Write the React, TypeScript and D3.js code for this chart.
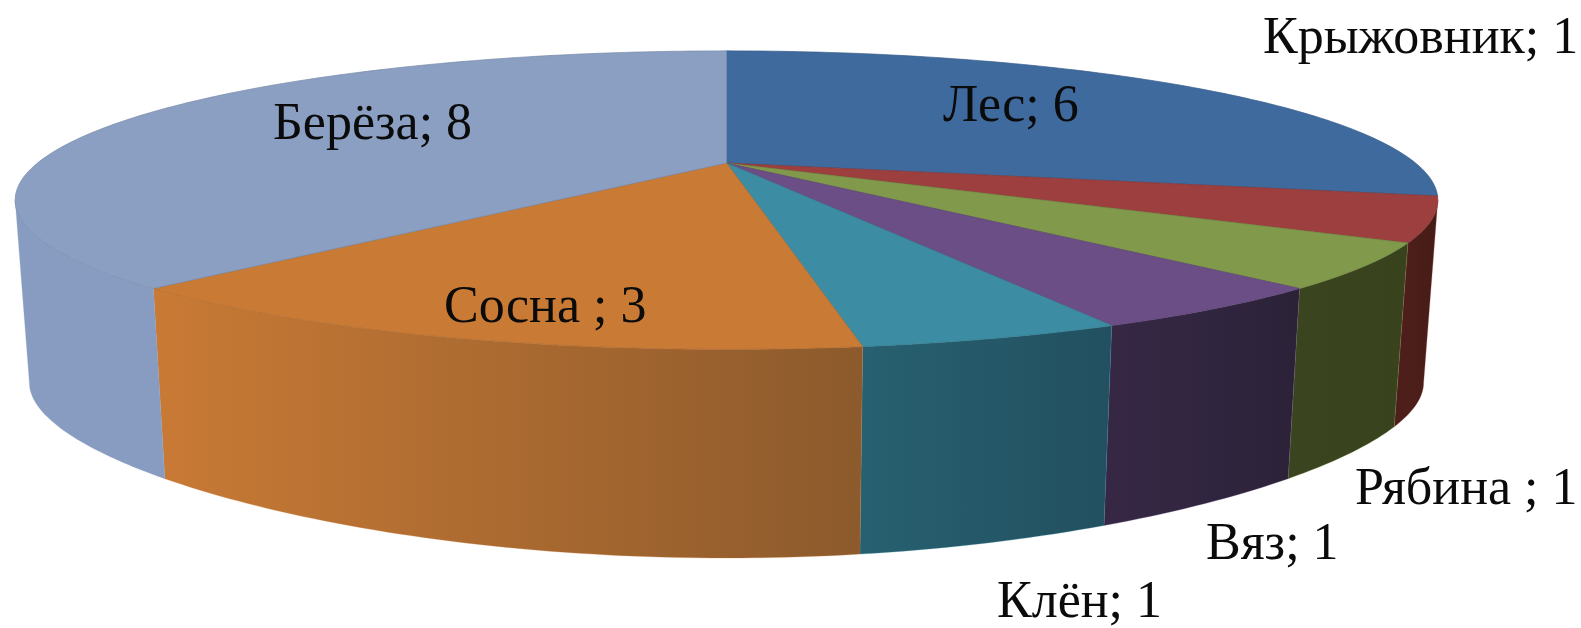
import * as d3 from "d3";

const categories = ["Лес", "Крыжовник", "Рябина ", "Вяз", "Клён", "Сосна ", "Берёза"];
const values = [6, 1, 1, 1, 1, 3, 8];
const topColors = ["#3F6A9E", "#9C3F3E", "#80994A", "#6A4E85", "#3C8DA3", "#C97A35", "#8A9FC2"];
const wallStart = ["#2C4A70", "#4E1F1A", "#3A451F", "#362845", "#276070", "#C97A35", "#879CC0"];
const wallEnd = ["#2C4A70", "#451C16", "#38431E", "#2B2238", "#225060", "#8C5A2C", "#879CC0"];
const labelX = [943, 1263, 1355, 1206, 997, 444, 273];
const labelY = [121, 53, 504, 559, 617, 322, 139];

const width = 1581;
const height = 628;
const cx = 726.5;
const cy = 163;

// pie is drawn in perspective, the front half is nearer the viewer
const spreadX = d3.scaleLinear().domain([0, 1]).range([0, 689]);
const spreadY = d3.scaleLinear().domain([0, 1]).range([0, 140]);
const lowY = d3.scaleLinear().domain([0, 1]).range([185, 311]);
const skew = 0.2486;
// side walls only show between the two widest points of the rim
const sideAngle = Math.acos(-skew);

function topPoint(angle: number): [number, number] {
  const x = Math.sin(angle);
  const y = -Math.cos(angle);
  const d = 1 - skew * y;
  return [cx + spreadX(x) / d, cy + spreadY(y) / d];
}

function lowPoint(angle: number): [number, number] {
  const x = Math.sin(angle);
  const y = -Math.cos(angle);
  const d = 1 - skew * y;
  return [cx + (spreadX(x) / d) * 0.98, cy + lowY(y / (1 - 0.4 * y))];
}

const line = d3.line<[number, number]>();

function samples(a0: number, a1: number) {
  const n = Math.max(2, Math.ceil((a1 - a0) * 60));
  return d3.range(n + 1).map((i) => a0 + ((a1 - a0) * i) / n);
}

const slices = d3
  .pie<number>()
  .sort(null)
  .startAngle(0)
  .endAngle(Math.PI * 2)(values);

export default function App() {
  return (
    <svg
      width={width}
      height={height}
      style={{ position: "absolute", left: 0, top: 0, background: "#fff" }}
    >
      <defs>
        {slices.map((s, i) => (
          <linearGradient
            key={i}
            id={`wall-${i}`}
            gradientUnits="userSpaceOnUse"
            x1={topPoint(s.endAngle)[0]}
            x2={topPoint(s.startAngle)[0]}
            y1={0}
            y2={0}
          >
            <stop offset="0%" stopColor={wallStart[i]} />
            <stop offset="100%" stopColor={wallEnd[i]} />
          </linearGradient>
        ))}
      </defs>
      {slices.map((s, i) => {
        const a0 = Math.max(s.startAngle, sideAngle);
        const a1 = Math.min(s.endAngle, Math.PI * 2 - sideAngle);
        if (a1 <= a0) return null;
        const as = samples(a0, a1);
        const d =
          line([...as.map(topPoint), ...as.slice().reverse().map(lowPoint)]) + "Z";
        return (
          <path
            key={i}
            d={d}
            fill={`url(#wall-${i})`}
            stroke={topColors[i]}
            strokeOpacity={0.35}
            strokeWidth={0.8}
          />
        );
      })}
      {slices.map((s, i) => {
        const as = samples(s.startAngle, s.endAngle);
        const d = line([[cx, cy], ...as.map(topPoint)]) + "Z";
        return (
          <path
            key={i}
            d={d}
            fill={topColors[i]}
            stroke={d3.color(topColors[i])!.darker(0.4).toString()}
            strokeWidth={0.7}
          />
        );
      })}
      {categories.map((c, i) => (
        <text
          key={c}
          x={labelX[i]}
          y={labelY[i]}
          fontFamily="'Liberation Serif', serif"
          fontSize={52}
          fill="#0b0b0b"
        >
          {`${c}; ${values[i]}`}
        </text>
      ))}
    </svg>
  );
}
